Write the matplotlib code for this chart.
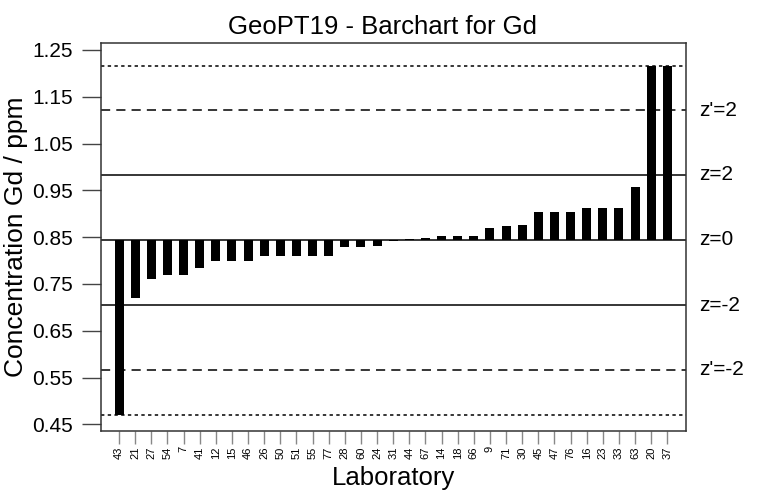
import matplotlib
matplotlib.use("Agg")
import matplotlib.pyplot as plt

plt.rcParams['font.family'] = ['Liberation Sans', 'DejaVu Sans']

# laboratory codes, sorted by reported value
labs = ["43", "21", "27", "54", "7", "41", "12", "15", "46", "26", "50", "51",
        "55", "77", "28", "60", "24", "31", "44", "67", "14", "18", "66", "9",
        "71", "30", "45", "47", "76", "16", "23", "33", "63", "20", "37"]
gd_ppm = [0.470, 0.721, 0.760, 0.769, 0.770, 0.784, 0.799, 0.799, 0.799, 0.810,
          0.810, 0.810, 0.810, 0.810, 0.830, 0.830, 0.832, 0.841, 0.847, 0.849,
          0.852, 0.852, 0.852, 0.870, 0.874, 0.877, 0.904, 0.904, 0.904, 0.912,
          0.912, 0.912, 0.957, 1.216, 1.216]

assigned = 0.844
sigma = 0.0695        # target sd for z
sigma_p = 0.1385      # target sd for z'
plot_lo, plot_hi = 0.470, 1.216

fig = plt.figure(figsize=(7.66, 4.94), dpi=100)
ax = fig.add_axes([0.1319, 0.1275, 0.7637, 0.7855])

x = list(range(len(labs)))
heights = [v - assigned for v in gd_ppm]
ax.bar(x, heights, bottom=assigned, width=0.56, color="black", zorder=3)

ax.axhline(assigned, color="black", lw=1.1, zorder=2)
ax.axhline(assigned + 2 * sigma, color="black", lw=1.1)
ax.axhline(assigned - 2 * sigma, color="black", lw=1.1)
ax.axhline(assigned + 2 * sigma_p, color="black", lw=1.1, ls=(0, (6, 4)))
ax.axhline(assigned - 2 * sigma_p, color="black", lw=1.1, ls=(0, (6, 4)))
ax.axhline(plot_hi, color="black", lw=1.1, ls=(0, (2.2, 2.2)))
ax.axhline(plot_lo, color="black", lw=1.1, ls=(0, (2.2, 2.2)))

trans = ax.get_yaxis_transform()
for val, txt in [(assigned + 2 * sigma_p, "z'=2"), (assigned + 2 * sigma, "z=2"),
                 (assigned, "z=0"), (assigned - 2 * sigma, "z=-2"),
                 (assigned - 2 * sigma_p, "z'=-2")]:
    ax.text(1.022, val, txt, transform=trans, ha="left", va="center", fontsize=15)

ax.set_xlim(-1.12, 35.16)
ax.set_ylim(0.4357, 1.265)
ax.set_yticks([0.45, 0.55, 0.65, 0.75, 0.85, 0.95, 1.05, 1.15, 1.25])
ax.set_yticklabels(["0.45", "0.55", "0.65", "0.75", "0.85", "0.95", "1.05", "1.15", "1.25"])
ax.set_xticks(x)
ax.set_xticklabels(labs, rotation=90, fontsize=8)
ax.tick_params(axis="y", labelsize=15, length=14, width=1, color="#444444", pad=6)
ax.tick_params(axis="x", length=9, width=1, color="#888888", pad=2)
for s in ax.spines.values():
    s.set_color("#333333")
    s.set_linewidth(1.1)

ax.set_xlabel("Laboratory", fontsize=18.5, labelpad=5)
ax.set_ylabel("Concentration Gd / ppm", fontsize=19, labelpad=3)
fig.text(0.5, 0.922, "GeoPT19 - Barchart for Gd", ha="center", va="bottom", fontsize=18.5)

fig.savefig("out.png", dpi=100)
